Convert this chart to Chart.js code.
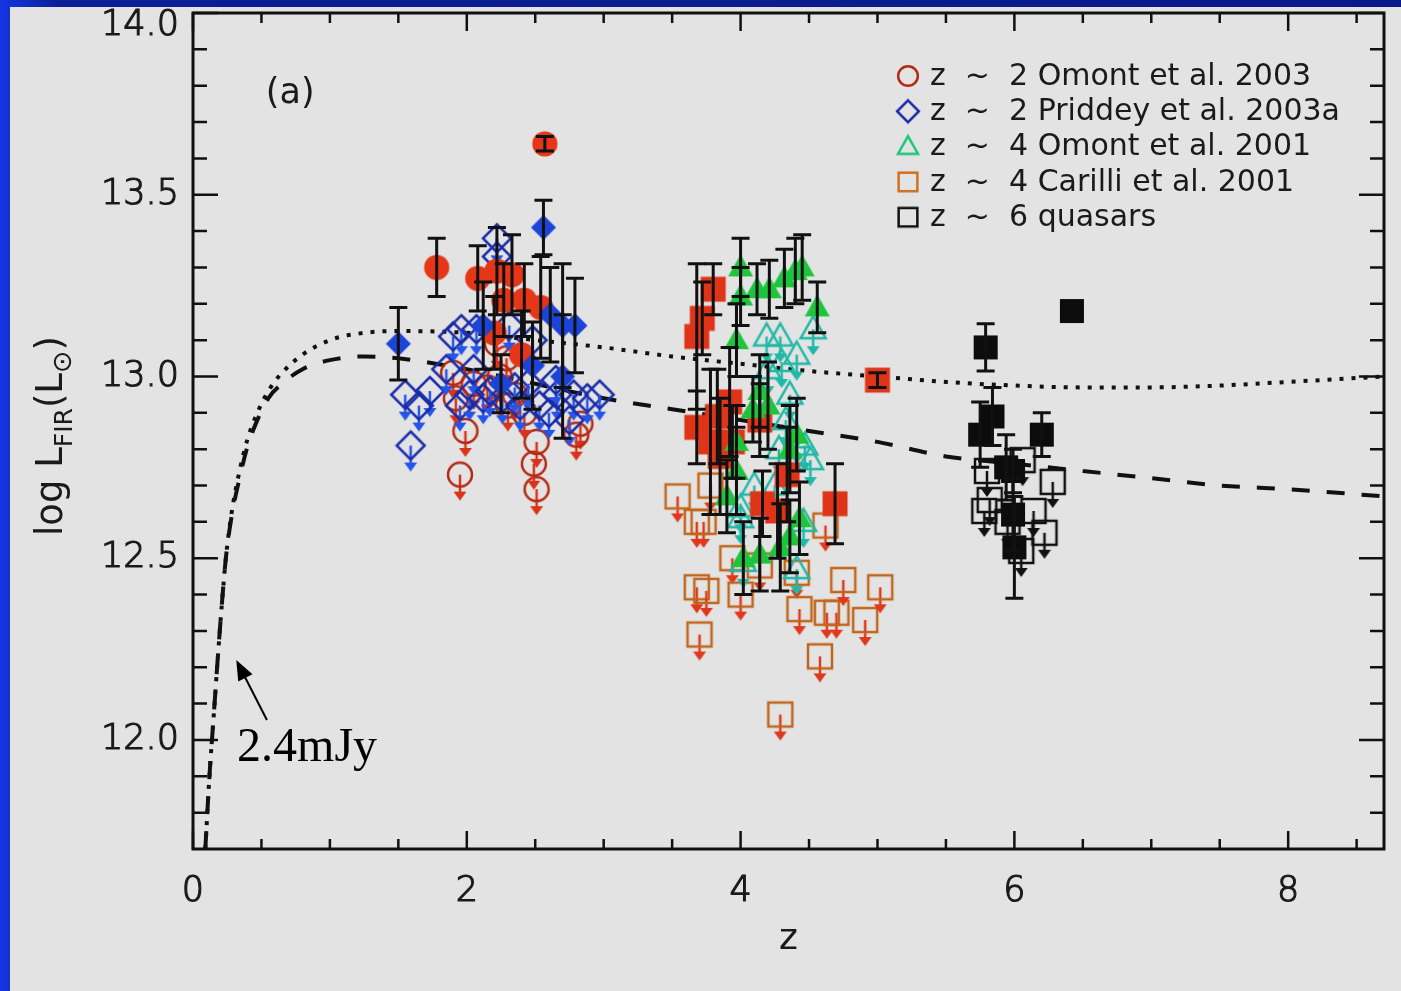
<!DOCTYPE html>
<html>
<head>
<meta charset="utf-8">
<title>log L_FIR vs z</title>
<script src="https://cdn.jsdelivr.net/npm/chart.js@4.4.1/dist/chart.umd.min.js"></script>
<style>
  html, body { margin: 0; padding: 0; width: 1401px; height: 991px; overflow: hidden; }
  body { position: relative; background: linear-gradient(to right, #1636e4 0, #1232d4 10px, #0c1e96 60px, #0a1a8a 100%); }
  #panel { position: absolute; left: 10px; top: 7px; right: 0; bottom: 0; background: #e3e3e3; }
  #lfir { position: absolute; left: 0; top: 0; }
</style>
</head>
<body>
<div id="panel"></div>
<canvas id="lfir" width="1401" height="991"></canvas>
<script>
// axis ticks
const xMajorTicks = [0, 2, 4, 6, 8];
const xMinorTicks = [0.5, 1, 1.5, 2.5, 3, 3.5, 4.5, 5, 5.5, 6.5, 7, 7.5, 8.5];
const yMajorTicks = [12.0, 12.5, 13.0, 13.5, 14.0];
const yMinorTicks = [11.8, 11.9, 12.1, 12.2, 12.3, 12.4, 12.6, 12.7, 12.8, 12.9,
                     13.1, 13.2, 13.3, 13.4, 13.6, 13.7, 13.8, 13.9];

// model curves (dotted / dashed)
const curveZ = [0.09, 0.12, 0.15, 0.18, 0.21, 0.24, 0.28, 0.34, 0.40, 0.47, 0.55, 0.65, 0.8, 1.0,
                1.25, 1.5, 2.0, 2.5, 3.0, 3.5, 4.0, 4.5, 5.0, 5.5, 6.0, 6.5, 7.0, 7.5, 8.0, 8.7];
const curveDotted = [11.70, 11.90, 12.06, 12.22, 12.37, 12.50, 12.62, 12.74, 12.83, 12.90, 12.96, 13.01, 13.06, 13.10,
                     13.12, 13.125, 13.12, 13.10, 13.08, 13.055, 13.035, 13.015, 13.00, 12.985, 12.975, 12.97, 12.97, 12.975, 12.985, 13.00];
const curveDashed = [11.70, 11.90, 12.06, 12.22, 12.37, 12.50, 12.61, 12.72, 12.81, 12.88, 12.94, 12.98, 13.02, 13.045,
                     13.055, 13.05, 13.02, 12.98, 12.94, 12.91, 12.88, 12.85, 12.82, 12.78, 12.76, 12.74, 12.72, 12.70, 12.69, 12.67];

// z~2 Omont et al. 2003
const o03DetZ = [1.78, 2.08, 2.22, 2.33, 2.27, 2.42, 2.54, 2.57, 2.20, 2.40];
const o03DetL = [13.30, 13.27, 13.29, 13.28, 13.21, 13.21, 13.19, 13.64, 13.12, 13.06];
const o03DetErr = [0.08, 0.09, 0.12, 0.11, 0.10, 0.10, 0.14, 0.02, 0.10, 0.12];
const o03LimZ = [1.95, 1.99, 2.51, 2.49, 2.51, 2.29, 2.24, 1.90, 1.92, 2.22, 2.83, 2.35, 2.15, 2.05, 2.42, 2.30, 2.80];
const o03LimL = [12.73, 12.85, 12.69, 12.76, 12.82, 13.05, 13.00, 13.01, 12.94, 13.09, 12.87, 12.95, 12.97, 12.98, 12.90, 12.92, 12.84];

// z~2 Priddey et al. 2003a
const pr03DetZ = [1.50, 2.56, 2.12, 2.61, 2.70, 2.79, 2.48, 2.70, 2.25];
const pr03DetL = [13.09, 13.41, 13.14, 13.17, 13.14, 13.14, 13.03, 13.00, 12.98];
const pr03DetErr = [0.10, 0.075, 0.12, 0.13, 0.17, 0.13, 0.12, 0.17, 0.08];
const pr03LimZ = [1.55, 1.59, 1.73, 1.90, 1.85, 1.95, 2.02, 2.22, 2.22, 2.12, 2.26, 2.39, 2.53, 2.66, 2.78,
                  2.88, 2.97, 1.96, 2.07, 2.31, 2.48, 2.65, 2.05, 2.17, 2.35, 2.45, 2.60, 2.75, 1.65];
const pr03LimL = [12.95, 12.81, 12.96, 13.11, 13.02, 12.92, 12.95, 13.38, 13.33, 12.94, 12.94, 12.92, 12.92, 12.95, 12.95,
                  12.94, 12.95, 13.13, 13.13, 13.14, 13.10, 12.99, 13.02, 12.96, 12.97, 12.98, 12.90, 12.88, 12.92];

// z~4 Omont et al. 2001
const o01DetZ = [4.00, 4.00, 4.12, 3.97, 4.32, 4.40, 4.45, 4.21, 4.56, 4.14, 4.09,
                 3.97, 3.97, 4.41, 4.36, 3.90, 4.14, 4.29, 4.36, 4.43, 4.02, 4.20];
const o01DetL = [13.30, 13.22, 13.24, 13.10, 13.27, 13.29, 13.30, 13.24, 13.19, 12.96, 12.91,
                 12.82, 12.74, 12.84, 12.80, 12.67, 12.51, 12.53, 12.56, 12.61, 12.50, 12.92];
const o01DetErr = [0.08, 0.08, 0.07, 0.10, 0.08, 0.09, 0.09, 0.08, 0.07, 0.10, 0.09,
                   0.10, 0.12, 0.10, 0.12, 0.10, 0.10, 0.12, 0.10, 0.10, 0.10, 0.12];
const o01LimZ = [4.19, 4.29, 4.53, 4.41, 4.20, 4.36, 4.51, 4.41, 4.28, 4.00, 4.46, 4.41, 4.00, 4.02, 4.25, 4.33, 4.10, 4.47, 4.30];
const o01LimL = [13.11, 13.11, 13.13, 13.06, 13.02, 12.95, 12.77, 12.83, 12.80, 12.64, 12.60, 12.47, 12.61, 12.49, 12.70, 12.88, 12.70, 12.81, 13.04];

// z~4 Carilli et al. 2001
const ca01DetZ = [3.80, 3.72, 3.68, 3.68, 3.83, 3.92, 3.94, 3.85, 4.14, 4.34, 4.69, 4.16, 4.27, 5.00, 3.78];
const ca01DetL = [13.24, 13.16, 13.11, 12.86, 12.89, 12.93, 12.82, 12.78, 12.88, 12.73, 12.65, 12.65, 12.63, 12.99, 12.82];
const ca01DetErr = [0.07, 0.10, 0.20, 0.10, 0.13, 0.15, 0.10, 0.16, 0.10, 0.13, 0.11, 0.09, 0.13, 0.02, 0.20];
const ca01LimZ = [3.54, 3.68, 3.73, 3.78, 3.94, 3.68, 3.75, 4.00, 3.70, 4.14, 4.41, 4.43, 4.63, 4.70, 4.75, 4.91, 5.02, 4.58, 4.29, 4.62];
const ca01LimL = [12.67, 12.60, 12.60, 12.70, 12.50, 12.42, 12.41, 12.40, 12.29, 12.48, 12.46, 12.36, 12.35, 12.35, 12.44, 12.33, 12.42, 12.23, 12.07, 12.59];

// z~6 quasars
const q6DetZ = [6.42, 5.79, 5.84, 5.75, 6.20, 5.94, 5.99, 5.99, 6.00];
const q6DetL = [13.18, 13.08, 12.89, 12.84, 12.84, 12.75, 12.74, 12.62, 12.53];
const q6DetErr = [0, 0.065, 0.08, 0.09, 0.06, 0.09, 0.06, 0.10, 0.14];
const q6LimZ = [6.06, 6.28, 5.82, 5.78, 6.14, 6.22, 6.05, 5.80, 5.95];
const q6LimL = [12.77, 12.71, 12.66, 12.63, 12.63, 12.57, 12.52, 12.74, 12.60];

const legendLabels = [
  'z  ~  2 Omont et al. 2003',
  'z  ~  2 Priddey et al. 2003a',
  'z  ~  4 Omont et al. 2001',
  'z  ~  4 Carilli et al. 2001',
  'z  ~  6 quasars'
];

const FONT = "'DejaVu Sans', sans-serif";
const INK = '#1a1a1a';

// marker sprites: shape centred in a 64x64 canvas, optional upper-limit arrow below
function makeMarker(shape, opt) {
  const s = opt.scale || 1;
  const c = document.createElement('canvas');
  c.width = 64;
  c.height = 64;
  const g = c.getContext('2d');
  const cx = 32, cy = 32;
  if (opt.arrow) {
    g.strokeStyle = opt.arrow;
    g.fillStyle = opt.arrow;
    g.lineWidth = 2.5;
    g.beginPath();
    g.moveTo(cx, cy);
    g.lineTo(cx, cy + 19);
    g.stroke();
    g.beginPath();
    g.moveTo(cx - 6.5, cy + 17);
    g.lineTo(cx + 6.5, cy + 17);
    g.lineTo(cx, cy + 26);
    g.closePath();
    g.fill();
  }
  g.beginPath();
  if (shape === 'circle') {
    g.arc(cx, cy, 12 * s, 0, Math.PI * 2);
  } else if (shape === 'diamond') {
    const r = (opt.fill ? 12.5 : 14) * s;
    g.moveTo(cx, cy - r); g.lineTo(cx + r, cy); g.lineTo(cx, cy + r); g.lineTo(cx - r, cy);
    g.closePath();
  } else if (shape === 'triangle') {
    g.moveTo(cx, cy - 13 * s); g.lineTo(cx + 12.5 * s, cy + 9 * s); g.lineTo(cx - 12.5 * s, cy + 9 * s);
    g.closePath();
  } else {
    const h = 12 * s;
    g.rect(cx - h, cy - h, 2 * h, 2 * h);
  }
  if (opt.fill) { g.fillStyle = opt.fill; g.fill(); }
  if (opt.stroke) { g.strokeStyle = opt.stroke; g.lineWidth = opt.lineWidth || 2.5; g.stroke(); }
  return c;
}

const mk = {
  o03Det: makeMarker('circle', { fill: '#e63618', scale: 1.05 }),
  o03Lim: makeMarker('circle', { stroke: '#b42a14', arrow: '#d8341a' }),
  pr03Det: makeMarker('diamond', { fill: '#1c44d8' }),
  pr03Lim: makeMarker('diamond', { stroke: '#1a2ca8', arrow: '#2454e8' }),
  o01Det: makeMarker('triangle', { fill: '#1ec43c' }),
  o01Lim: makeMarker('triangle', { stroke: '#20b8a6', arrow: '#20b8a6' }),
  ca01Det: makeMarker('square', { fill: '#e03418', scale: 1.04 }),
  ca01Lim: makeMarker('square', { stroke: '#c2661c', arrow: '#e0381a' }),
  q6Det: makeMarker('square', { fill: '#0c0c0c' }),
  q6Lim: makeMarker('square', { stroke: '#111111', arrow: '#111111' })
};

const legendMarkers = [
  makeMarker('circle', { stroke: '#b42a14', scale: 0.82 }),
  makeMarker('diamond', { stroke: '#1a2ca8', scale: 0.78 }),
  makeMarker('triangle', { stroke: '#1ec47a', scale: 0.8 }),
  makeMarker('square', { stroke: '#d07020', scale: 0.78 }),
  makeMarker('square', { stroke: '#111111', scale: 0.78 })
];

const pts = (zs, ls) => zs.map((z, i) => ({ x: z, y: ls[i] }));

function markerSet(label, zs, ls, sprite, order, errs) {
  return {
    label,
    data: pts(zs, ls),
    pointStyle: sprite,
    pointRadius: 12,
    showLine: false,
    order,
    yErr: errs || null
  };
}

function curveSet(label, ls, dash) {
  return {
    label,
    data: pts(curveZ, ls),
    showLine: true,
    borderColor: '#111111',
    borderWidth: 4,
    borderDash: dash,
    borderCapStyle: 'butt',
    pointRadius: 0,
    cubicInterpolationMode: 'monotone',
    fill: false,
    order: 20
  };
}

// black error bars on top of the detections
const errorBars = {
  id: 'errorBars',
  afterDatasetsDraw(chart) {
    const { ctx, scales: { x, y } } = chart;
    ctx.save();
    ctx.strokeStyle = '#111111';
    ctx.lineWidth = 3;
    chart.data.datasets.forEach(ds => {
      if (!ds.yErr) return;
      ds.data.forEach((p, i) => {
        const e = ds.yErr[i];
        if (!e) return;
        const px = x.getPixelForValue(p.x);
        const top = y.getPixelForValue(p.y + e);
        const bot = y.getPixelForValue(p.y - e);
        ctx.beginPath();
        ctx.moveTo(px, top); ctx.lineTo(px, bot);
        ctx.moveTo(px - 9, top); ctx.lineTo(px + 9, top);
        ctx.moveTo(px - 9, bot); ctx.lineTo(px + 9, bot);
        ctx.stroke();
      });
    });
    ctx.restore();
  }
};

// box frame with inward ticks on all four sides
const frameTicks = {
  id: 'frameTicks',
  afterDatasetsDraw(chart) {
    const { ctx, chartArea: a, scales: { x, y } } = chart;
    ctx.save();
    ctx.strokeStyle = '#111111';
    ctx.lineWidth = 2.5;
    ctx.beginPath();
    const xt = (vals, len) => vals.forEach(v => {
      const p = x.getPixelForValue(v);
      ctx.moveTo(p, a.bottom); ctx.lineTo(p, a.bottom - len);
      ctx.moveTo(p, a.top); ctx.lineTo(p, a.top + len);
    });
    const yt = (vals, len) => vals.forEach(v => {
      const p = y.getPixelForValue(v);
      ctx.moveTo(a.left, p); ctx.lineTo(a.left + len, p);
      ctx.moveTo(a.right, p); ctx.lineTo(a.right - len, p);
    });
    xt(xMinorTicks, 10);
    xt(xMajorTicks, 18);
    yt(yMinorTicks, 14);
    yt(yMajorTicks, 25);
    ctx.stroke();
    ctx.lineWidth = 3;
    ctx.strokeRect(a.left, a.top, a.width, a.height);
    ctx.restore();
  }
};

// legend box, panel tag, flux-limit note and the y title with subscripts
const annotations = {
  id: 'annotations',
  afterDraw(chart) {
    const { ctx, chartArea: a, scales: { x, y } } = chart;
    ctx.save();

    // legend
    const lx = a.left + 715, ly = a.top + 63, row = 35.3;
    ctx.font = '30px ' + FONT;
    ctx.fillStyle = INK;
    ctx.textBaseline = 'middle';
    ctx.textAlign = 'left';
    legendLabels.forEach((t, i) => {
      const m = legendMarkers[i];
      const yy = ly + i * row;
      ctx.drawImage(m, lx - m.width / 2, yy - m.height / 2);
      ctx.fillText(t, lx + 22, yy + 1);
    });

    // panel tag
    ctx.font = '35px ' + FONT;
    ctx.textAlign = 'center';
    ctx.fillText('(a)', x.getPixelForValue(0.71), y.getPixelForValue(13.785) + 3);

    // 2.4mJy note with arrow
    ctx.font = "48px 'Liberation Serif', 'Times New Roman', serif";
    ctx.textAlign = 'left';
    ctx.textBaseline = 'alphabetic';
    ctx.fillStyle = '#000000';
    ctx.fillText('2.4mJy', x.getPixelForValue(0.322), y.getPixelForValue(11.942));
    const x0 = x.getPixelForValue(0.54), y0 = y.getPixelForValue(12.055);
    const x1 = x.getPixelForValue(0.316), y1 = y.getPixelForValue(12.22);
    const ang = Math.atan2(y1 - y0, x1 - x0);
    ctx.strokeStyle = '#000000';
    ctx.lineWidth = 2;
    ctx.beginPath();
    ctx.moveTo(x0, y0);
    ctx.lineTo(x1 - 14 * Math.cos(ang), y1 - 14 * Math.sin(ang));
    ctx.stroke();
    ctx.beginPath();
    ctx.moveTo(x1, y1);
    ctx.lineTo(x1 - 20 * Math.cos(ang) + 8 * Math.sin(ang), y1 - 20 * Math.sin(ang) - 8 * Math.cos(ang));
    ctx.lineTo(x1 - 20 * Math.cos(ang) - 8 * Math.sin(ang), y1 - 20 * Math.sin(ang) + 8 * Math.cos(ang));
    ctx.closePath();
    ctx.fill();

    // y title: log L_FIR(L_sun)
    const parts = [
      ['log L', 37, 0], ['FIR', 25, 10], ['(L', 37, 0], ['\u2299', 27, 9], [')', 37, 0]
    ];
    let total = 0;
    parts.forEach(p => { ctx.font = p[1] + 'px ' + FONT; total += ctx.measureText(p[0]).width; });
    ctx.translate(62, (a.top + a.bottom) / 2 + 5);
    ctx.rotate(-Math.PI / 2);
    ctx.fillStyle = INK;
    ctx.textAlign = 'left';
    ctx.textBaseline = 'alphabetic';
    let u = -total / 2;
    parts.forEach(p => {
      ctx.font = p[1] + 'px ' + FONT;
      ctx.fillText(p[0], u, p[2]);
      u += ctx.measureText(p[0]).width;
    });
    ctx.restore();
  }
};

new Chart(document.getElementById('lfir'), {
  type: 'scatter',
  data: {
    datasets: [
      markerSet('z~2 Omont et al. 2003', o03DetZ, o03DetL, mk.o03Det, 2, o03DetErr),
      markerSet('z~2 Priddey et al. 2003a', pr03DetZ, pr03DetL, mk.pr03Det, 1, pr03DetErr),
      markerSet('z~4 Omont et al. 2001', o01DetZ, o01DetL, mk.o01Det, 3, o01DetErr),
      markerSet('z~4 Carilli et al. 2001', ca01DetZ, ca01DetL, mk.ca01Det, 4, ca01DetErr),
      markerSet('z~6 quasars', q6DetZ, q6DetL, mk.q6Det, 5, q6DetErr),
      markerSet('z~2 Omont et al. 2003 limits', o03LimZ, o03LimL, mk.o03Lim, 7),
      markerSet('z~2 Priddey et al. 2003a limits', pr03LimZ, pr03LimL, mk.pr03Lim, 6),
      markerSet('z~4 Omont et al. 2001 limits', o01LimZ, o01LimL, mk.o01Lim, 8),
      markerSet('z~4 Carilli et al. 2001 limits', ca01LimZ, ca01LimL, mk.ca01Lim, 9),
      markerSet('z~6 quasars limits', q6LimZ, q6LimL, mk.q6Lim, 10),
      curveSet('model (dotted)', curveDotted, [4, 8]),
      curveSet('model (dashed)', curveDashed, [18, 17])
    ]
  },
  options: {
    responsive: false,
    animation: false,
    events: [],
    layout: { padding: { left: 0, top: 12, right: 17, bottom: 0 } },
    plugins: {
      legend: { display: false },
      tooltip: { enabled: false }
    },
    scales: {
      x: {
        type: 'linear',
        min: 0,
        max: 8.7,
        grid: { display: false, drawTicks: false },
        border: { display: false },
        ticks: {
          includeBounds: false,
          color: INK,
          font: { family: FONT, size: 35, weight: '200' },
          textStrokeColor: INK,
          textStrokeWidth: 1.2,
          padding: 22,
          maxRotation: 0,
          callback: v => String(v)
        },
        title: {
          display: true,
          text: 'z',
          color: INK,
          font: { family: FONT, size: 36 },
          padding: { top: 0, bottom: 30 }
        },
        afterBuildTicks: s => { s.ticks = xMajorTicks.map(v => ({ value: v })); },
        afterFit: s => {
          s.height = 142;
          s.paddingLeft = 0; s.paddingRight = 0;
        }
      },
      y: {
        type: 'linear',
        min: 11.7,
        max: 14.0,
        grid: { display: false, drawTicks: false },
        border: { display: false },
        ticks: {
          includeBounds: false,
          color: INK,
          // the top label sits just below the frame corner
          font: c => ({ family: FONT, size: 35, weight: '200', lineHeight: c.tick && c.tick.value === 14 ? 0.75 : 1.2 }),
          textStrokeColor: INK,
          textStrokeWidth: 1.2,
          padding: 14,
          callback: v => (v === 14 ? ['', '14.0'] : Number(v).toFixed(1))
        },
        afterBuildTicks: s => { s.ticks = yMajorTicks.map(v => ({ value: v })); },
        afterFit: s => {
          s.width = 193;
          s.paddingTop = 0; s.paddingBottom = 0;
        }
      }
    }
  },
  plugins: [frameTicks, errorBars, annotations]
});
</script>
</body>
</html>
